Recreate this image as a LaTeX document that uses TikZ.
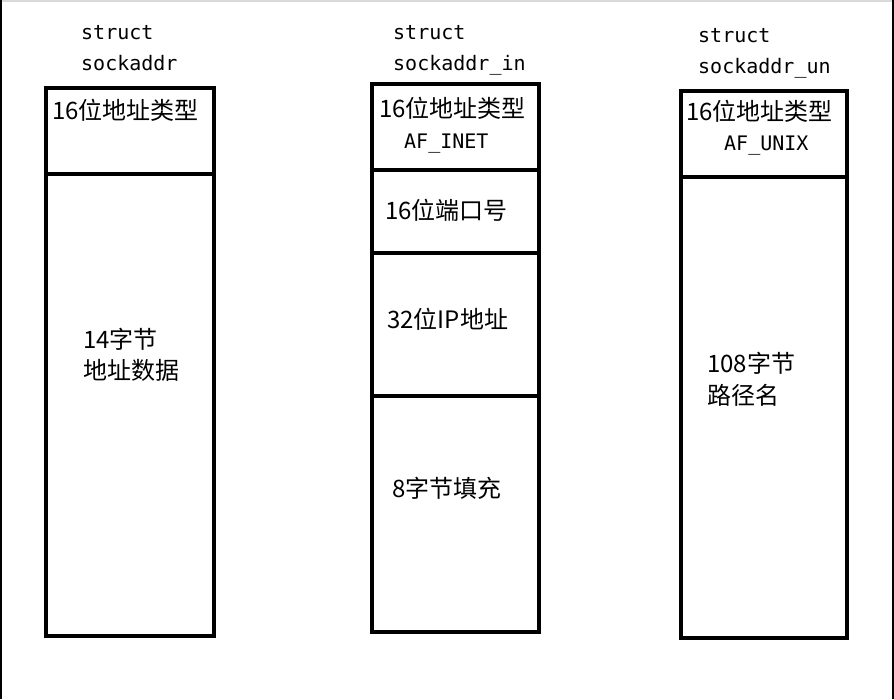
\documentclass[tikz,border=0pt]{standalone}
\usepackage{fontspec}
\setmonofont{DejaVu Sans Mono}
\newfontfamily\cjkfont{Noto Sans CJK SC}
\usetikzlibrary{positioning}

\begin{document}
\begin{tikzpicture}[
  x=1pt, y=-1pt,
  cell/.style={rectangle, draw, line width=3.5pt, inner sep=0pt, outer sep=0pt},
  code/.style={anchor=base west, inner sep=0pt, font=\ttfamily\fontsize{20}{24}\selectfont},
  field/.style={anchor=base west, inner sep=0pt, font=\cjkfont\fontsize{24}{28}\selectfont},
  frame/.style={line width=1.5pt}
]
  \useasboundingbox (0,0) rectangle (894,699);
  % page frame
  \draw[frame, gray!30] (0,1) -- (894,1);
  \draw[frame] (0.8,0) -- (0.8,699);
  \draw[frame] (893.2,0) -- (893.2,699);

  % struct sockaddr
  \node[code] (sa-kw) at (81,39) {struct};
  \node[code] (sa-name) at (81,70) {sockaddr};
  \node[cell, minimum width=168, minimum height=86] (sa-type) at (130,131) {};
  \node[cell, minimum width=168, minimum height=462, below=0pt of sa-type] (sa-data) {};
  \node[field] (sa-type-txt) at (52,119) {16位地址类型};
  \node[field] (sa-data-a) at (83,348) {14字节};
  \node[field] (sa-data-b) at (83,379) {地址数据};

  % struct sockaddr_in
  \node[code] (in-kw) at (393,39) {struct};
  \node[code] (in-name) at (393,70) {sockaddr\_in};
  \node[cell, minimum width=167, minimum height=86] (in-type) at (455.5,127) {};
  \node[cell, minimum width=167, minimum height=83, below=0pt of in-type] (in-port) {};
  \node[cell, minimum width=167, minimum height=143, below=0pt of in-port] (in-addr) {};
  \node[cell, minimum width=167, minimum height=236, below=0pt of in-addr] (in-zero) {};
  \node[field] (in-type-txt) at (379,117) {16位地址类型};
  \node[code] (in-family) at (404,148) {AF\_INET};
  \node[field] (in-port-txt) at (385,219) {16位端口号};
  \node[field] (in-addr-txt) at (387,328) {32位IP地址};
  \node[field] (in-zero-txt) at (392,497) {8字节填充};

  % struct sockaddr_un
  \node[code] (un-kw) at (698,42) {struct};
  \node[code] (un-name) at (698,73) {sockaddr\_un};
  \node[cell, minimum width=166, minimum height=86] (un-type) at (764,134) {};
  \node[cell, minimum width=166, minimum height=461, below=0pt of un-type] (un-path) {};
  \node[field] (un-type-txt) at (686,120) {16位地址类型};
  \node[code] (un-family) at (724,150) {AF\_UNIX};
  \node[field] (un-path-a) at (707,372) {108字节};
  \node[field] (un-path-b) at (707,404) {路径名};
\end{tikzpicture}
\end{document}
